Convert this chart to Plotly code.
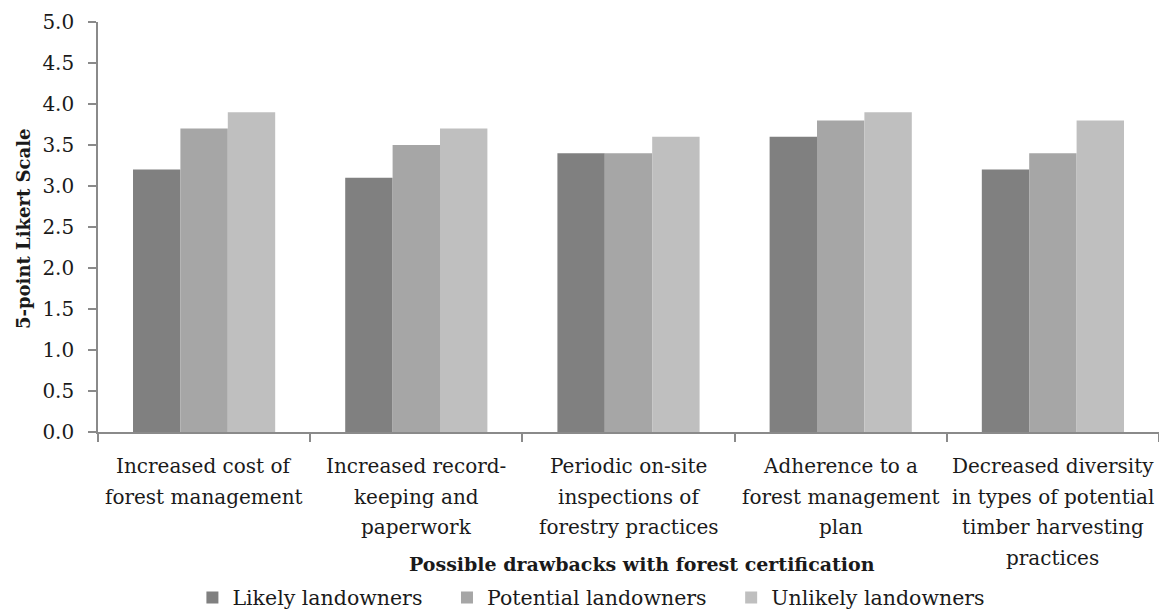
import plotly.graph_objects as go

# Drawback categories, one list entry per wrapped line of the axis label
categories = [
    "Increased cost of forest management",
    "Increased record-keeping and paperwork",
    "Periodic on-site inspections of forestry practices",
    "Adherence to a forest management plan",
    "Decreased diversity in types of potential timber harvesting practices",
]
category_lines = [
    ["Increased cost of", "forest management"],
    ["Increased record-", "keeping and", "paperwork"],
    ["Periodic on-site", "inspections of", "forestry practices"],
    ["Adherence to a", "forest management", "plan"],
    ["Decreased diversity", "in types of potential", "timber harvesting", "practices"],
]

# Mean ratings on a 5-point Likert scale
likely = [3.2, 3.1, 3.4, 3.6, 3.2]
potential = [3.7, 3.5, 3.4, 3.8, 3.4]
unlikely = [3.9, 3.7, 3.6, 3.9, 3.8]

series_names = ["Likely landowners", "Potential landowners", "Unlikely landowners"]
series_colors = ["#808080", "#a6a6a6", "#bfbfbf"]

FONT = "DejaVu Serif"
TEXT = "#1a1a1a"
AXIS_GREY = "#8a8a8a"
NBSP = "\u00a0"

fig = go.Figure()
for name, vals, col in zip(series_names, [likely, potential, unlikely], series_colors):
    fig.add_trace(go.Bar(
        x=categories, y=vals, name=name + NBSP * 3,
        marker=dict(color=col, line=dict(width=0)),
    ))

annotations = []
# multi-line category labels under each group
LINE_STEP = 30.7
for cat, lines in zip(categories, category_lines):
    for i, line in enumerate(lines):
        annotations.append(dict(
            text=line, xref="x", yref="paper", x=cat, y=0,
            yshift=-(34 + LINE_STEP * i), xanchor="center", yanchor="middle",
            showarrow=False, font=dict(family=FONT, size=20, color=TEXT),
        ))

# axis titles
annotations.append(dict(
    text="<b>Possible drawbacks with forest certification</b>",
    xref="paper", yref="paper", x=0.513, y=0, yshift=-132,
    xanchor="center", yanchor="middle", showarrow=False,
    font=dict(family=FONT, size=19, color=TEXT),
))
annotations.append(dict(
    text="<b>5-point Likert Scale</b>", textangle=-90,
    xref="paper", yref="paper", x=0, y=0.5, xshift=-75, yshift=-2,
    xanchor="center", yanchor="middle", showarrow=False,
    font=dict(family=FONT, size=18, color=TEXT),
))

fig.update_layout(
    width=1159, height=609,
    margin=dict(l=98, r=0, t=22, b=177, autoexpand=False),
    paper_bgcolor="white", plot_bgcolor="white",
    barmode="group", bargap=0.33, bargroupgap=0,
    font=dict(family=FONT, size=20, color=TEXT),
    showlegend=True,
    legend=dict(
        orientation="h", x=0.474, xanchor="center", y=-0.404, yanchor="middle",
        font=dict(family=FONT, size=20.5, color=TEXT),
        traceorder="normal",
    ),
    xaxis=dict(
        type="category", showline=True, linecolor=AXIS_GREY, linewidth=1.6,
        ticks="outside", tickson="boundaries", ticklen=8, tickcolor=AXIS_GREY,
        tickwidth=1.6,
        showticklabels=False, showgrid=False, zeroline=False, automargin=False,
    ),
    yaxis=dict(
        range=[0, 5], dtick=0.5, tickformat=".1f",
        showline=True, linecolor=AXIS_GREY, linewidth=1.6,
        ticks="outside", ticklen=8, tickcolor=AXIS_GREY, tickwidth=1.6,
        ticklabelstandoff=10,
        tickfont=dict(family=FONT, size=20, color=TEXT),
        showgrid=False, zeroline=False, automargin=False,
    ),
    annotations=annotations,
)

fig.write_html("out.html")
